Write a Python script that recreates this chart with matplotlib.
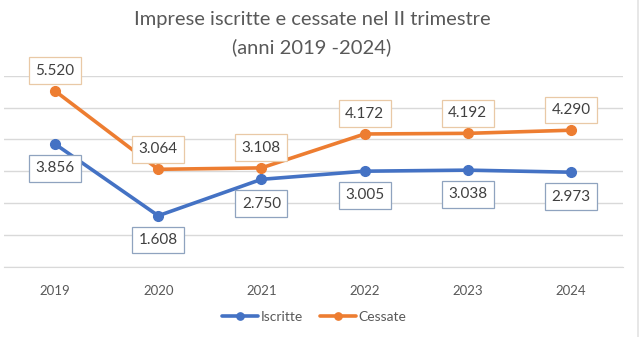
import matplotlib
matplotlib.use("Agg")
import matplotlib.pyplot as plt

plt.rcParams["font.family"] = ["Lato", "DejaVu Sans"]

years = ["2019", "2020", "2021", "2022", "2023", "2024"]
iscritte = [3856, 1608, 2750, 3005, 3038, 2973]
cessate = [5520, 3064, 3108, 4172, 4192, 4290]

BLUE = "#4472C4"
ORANGE = "#ED7D31"
GRID = "#D9D9D9"
TXT = "#404040"


def fmt(v):
    # Italian thousands separator
    return f"{v:,}".replace(",", ".")


fig = plt.figure(figsize=(6.4, 3.37), dpi=100)
ax = fig.add_axes([3.5 / 640, 1 - 267 / 337, 619 / 640, (267 - 75.7) / 337])

x = range(len(years))
ax.plot(x, iscritte, color=BLUE, lw=2.6, marker="o", ms=7, label="Iscritte",
        solid_capstyle="round", zorder=3)
ax.plot(x, cessate, color=ORANGE, lw=2.6, marker="o", ms=7, label="Cessate",
        solid_capstyle="round", zorder=3)

# boxed data labels: orange above the points, blue below
for i, v in enumerate(cessate):
    ax.annotate(fmt(v), (i, v), xytext=(0, 14.5), textcoords="offset points",
                ha="center", va="center", fontsize=11, color=TXT, zorder=4,
                bbox=dict(boxstyle="square,pad=0.42", fc="white", ec="#E9C9A6", lw=0.9))
for i, v in enumerate(iscritte):
    ax.annotate(fmt(v), (i, v), xytext=(0, -17.5), textcoords="offset points",
                ha="center", va="center", fontsize=11, color=TXT, zorder=4,
                bbox=dict(boxstyle="square,pad=0.42", fc="white", ec="#8FA3BF", lw=0.9))

ax.set_xlim(-0.5, len(years) - 0.5)
ax.set_ylim(0, 6000)
ax.set_yticks(range(0, 7000, 1000))
ax.yaxis.grid(True, color=GRID, lw=1)
ax.set_axisbelow(True)
for s in ["top", "right", "left"]:
    ax.spines[s].set_visible(False)
ax.spines["bottom"].set_color(GRID)
ax.tick_params(axis="y", left=False, labelleft=False)
ax.tick_params(axis="x", length=0, pad=13, labelsize=9.5, labelcolor="#595959")
ax.set_xticks(list(x))
ax.set_xticklabels(years)

fig.text(312 / 640, 1 - 20 / 337, "Imprese iscritte e cessate nel II trimestre",
         ha="center", va="center", fontsize=14.5, color="#595959")
fig.text(312 / 640, 1 - 47 / 337, "(anni 2019 -2024)",
         ha="center", va="center", fontsize=14.5, color="#595959")

fig.legend(loc="center", bbox_to_anchor=(314 / 640, 1 - 317 / 337), ncol=2,
           frameon=False, fontsize=10, labelcolor="#595959", handlelength=2.6,
           handletextpad=0.2, columnspacing=1.2, markerscale=0.75)

# thin border on the right edge of the chart area
fig.add_artist(plt.Line2D([637.5 / 640] * 2, [0, 1], transform=fig.transFigure,
                          color="#E3E3E3", lw=1.2))

fig.savefig("out.png", dpi=100, facecolor="white")
